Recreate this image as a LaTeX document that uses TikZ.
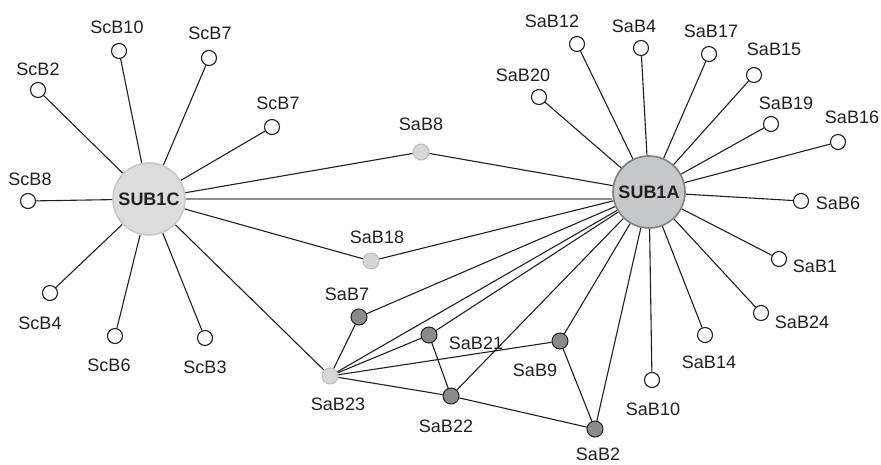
\documentclass[tikz,border=0pt]{standalone}
\usepackage{fontspec}
\setmainfont{Liberation Sans}
\usetikzlibrary{backgrounds}
\definecolor{ink}{HTML}{231F20}
\definecolor{hubAfill}{HTML}{C6C7C9}
\definecolor{hubAborder}{HTML}{7F7F7F}
\definecolor{hubCfill}{HTML}{DCDCDD}
\definecolor{hubCborder}{HTML}{C8C8C8}
\definecolor{dnfill}{HTML}{8A8B8D}
\definecolor{lnfill}{HTML}{D6D6D7}
\definecolor{lnborder}{HTML}{BDBDBD}
\definecolor{grayline}{HTML}{8E8E8E}
\begin{document}
\begin{tikzpicture}[x=1pt,y=-1pt,
  leaf/.style={circle,draw=ink,fill=white,line width=1.1pt,minimum size=15pt,inner sep=0pt},
  darknode/.style={circle,draw=ink,fill=dnfill,line width=1pt,minimum size=16pt,inner sep=0pt},
  lightnode/.style={circle,draw=lnborder,fill=lnfill,line width=1pt,minimum size=16pt,inner sep=0pt},
  hubA/.style={circle,draw=hubAborder,fill=hubAfill,line width=1.6pt,minimum size=72pt,inner sep=0pt,text=ink,font=\bfseries\fontsize{18}{20}\selectfont},
  hubC/.style={circle,draw=hubCborder,fill=hubCfill,line width=1.6pt,minimum size=72pt,inner sep=0pt,text=ink,font=\bfseries\fontsize{18}{20}\selectfont},
  lab/.style={text=ink,font=\fontsize{18}{20}\selectfont,inner sep=0pt},
  edge/.style={draw=ink,line width=1.1pt},
  grayedge/.style={draw=grayline,line width=2pt}]
\useasboundingbox (0,0) rectangle (881,464);

% hubs
\node[hubC] (SUB1C) at (149,199) {SUB1C};
\node[hubA] (SUB1A) at (649,192) {SUB1A};

% left leaves
\node[leaf] (ScB10) at (119,51) {};  \node[lab] (lScB10) at (117,27) {ScB10};
\node[leaf] (ScB7a) at (209,58) {};  \node[lab] (lScB7a) at (210,33) {ScB7};
\node[leaf] (ScB2) at (38,90) {};    \node[lab] (lScB2) at (38,69) {ScB2};
\node[leaf] (ScB7b) at (272,127) {}; \node[lab] (lScB7b) at (278,103) {ScB7};
\node[leaf] (ScB8) at (28,201) {};   \node[lab] (lScB8) at (30,179) {ScB8};
\node[leaf] (ScB4) at (50,293) {};   \node[lab] (lScB4) at (40,323) {ScB4};
\node[leaf] (ScB6) at (115,336) {};  \node[lab] (lScB6) at (109,365) {ScB6};
\node[leaf] (ScB3) at (205,338) {};  \node[lab] (lScB3) at (205,367) {ScB3};

% middle nodes
\node[lightnode] (SaB8) at (421,152) {};  \node[lab] (lSaB8) at (421,124) {SaB8};
\node[lightnode] (SaB18) at (371,261) {}; \node[lab] (lSaB18) at (377,237) {SaB18};
\node[lightnode] (SaB23) at (330,376) {}; \node[lab] (lSaB23) at (338,404) {SaB23};
\node[darknode] (SaB7) at (359,317) {};   \node[lab] (lSaB7) at (347,294) {SaB7};
\node[darknode] (SaB21) at (429,335) {};  \node[lab] (lSaB21) at (476,343) {SaB21};
\node[darknode] (SaB9) at (560,341) {};   \node[lab] (lSaB9) at (535,370) {SaB9};
\node[darknode] (SaB22) at (451,396) {};  \node[lab] (lSaB22) at (446,426) {SaB22};
\node[darknode] (SaB2) at (595,429) {};   \node[lab] (lSaB2) at (598,454) {SaB2};

% right leaves
\node[leaf] (SaB12) at (577,44) {};  \node[lab] (lSaB12) at (552,21) {SaB12};
\node[leaf] (SaB4) at (641,48) {};   \node[lab] (lSaB4) at (634,26) {SaB4};
\node[leaf] (SaB17) at (709,54) {};  \node[lab] (lSaB17) at (711,31) {SaB17};
\node[leaf] (SaB20) at (539,97) {};  \node[lab] (lSaB20) at (523,75) {SaB20};
\node[leaf] (SaB15) at (754,75) {};  \node[lab] (lSaB15) at (774,49) {SaB15};
\node[leaf] (SaB19) at (771,124) {}; \node[lab] (lSaB19) at (786,103) {SaB19};
\node[leaf] (SaB16) at (838,142) {}; \node[lab] (lSaB16) at (852,117) {SaB16};
\node[leaf] (SaB6) at (801,201) {};  \node[lab] (lSaB6) at (838,203) {SaB6};
\node[leaf] (SaB1) at (779,259) {};  \node[lab] (lSaB1) at (815,266) {SaB1};
\node[leaf] (SaB24) at (761,313) {}; \node[lab] (lSaB24) at (802,322) {SaB24};
\node[leaf] (SaB14) at (705,335) {}; \node[lab] (lSaB14) at (709,362) {SaB14};
\node[leaf] (SaB10) at (652,380) {}; \node[lab] (lSaB10) at (653,409) {SaB10};

\begin{scope}[on background layer]
\fill[white] (0,0) rectangle (881,464);
\draw[grayedge] (SUB1C) -- (SUB1C -| SUB1A.west);
\foreach \n in {ScB10,ScB7a,ScB2,ScB7b,ScB8,ScB4,ScB6,ScB3,SaB8,SaB18,SaB23}
  \draw[edge] (SUB1C) -- (\n);
\foreach \n in {SaB12,SaB4,SaB17,SaB20,SaB15,SaB19,SaB16,SaB6,SaB1,SaB24,SaB14,SaB10,SaB2,SaB9,SaB22,SaB21,SaB23,SaB7,SaB18,SaB8}
  \draw[edge] (SUB1A) -- (\n);
\foreach \n in {SaB7,SaB21,SaB9,SaB22}
  \draw[edge] (SaB23) -- (\n);
\draw[edge] (SaB21) -- (SaB22);
\draw[edge] (SaB22) -- (SaB2);
\draw[edge] (SaB9) -- (SaB2);
\end{scope}
\end{tikzpicture}
\end{document}
